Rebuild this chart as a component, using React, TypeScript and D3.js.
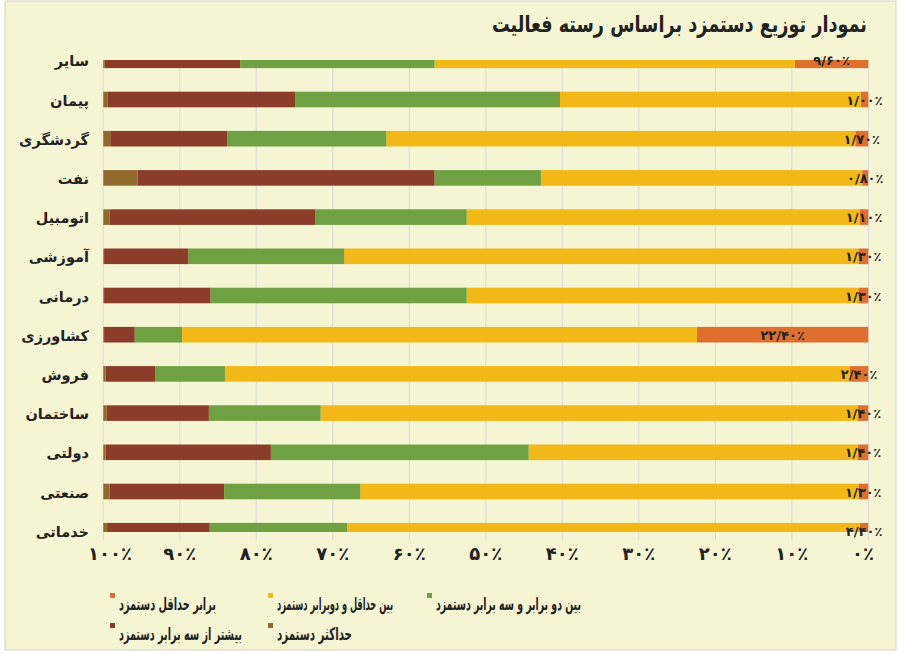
import React, { useLayoutEffect, useRef, useState } from "react";
import * as d3 from "d3";

const categories = ["سایر", "پیمان", "گردشگری", "نفت", "اتومبیل", "آموزشی", "درمانی", "کشاورزی", "فروش", "ساختمان", "دولتی", "صنعتی", "خدماتی"];
const minWage = [9.6, 1.0, 1.7, 0.8, 1.1, 1.3, 1.3, 22.4, 2.4, 1.4, 1.4, 1.3, 1.1];
const minToDouble = [47.1, 39.3, 61.3, 42.0, 51.4, 67.2, 51.2, 67.3, 81.7, 70.2, 43.0, 65.1, 67.0];
const doubleToTriple = [25.4, 34.6, 20.8, 13.9, 19.8, 20.4, 33.5, 6.2, 9.1, 14.6, 33.7, 17.8, 18.0];
const moreThanTriple = [17.7, 24.5, 15.3, 38.8, 26.9, 11.0, 13.9, 4.0, 6.5, 13.4, 21.6, 15.0, 13.4];
const maxWage = [0.2, 0.6, 0.9, 4.5, 0.8, 0.1, 0.1, 0.1, 0.3, 0.4, 0.3, 0.8, 0.5];
const minWageLabels = [9.6, 1.0, 1.7, 0.8, 1.1, 1.3, 1.3, 22.4, 2.4, 1.4, 1.4, 1.3, 4.4];
const ticks = [100, 90, 80, 70, 60, 50, 40, 30, 20, 10, 0];

const seriesKeys = ["minWage", "minToDouble", "doubleToTriple", "moreThanTriple", "maxWage"];
const seriesNames = ["برابر حداقل دستمزد", "بین حداقل و دوبرابر دستمزد", "بین دو برابر و سه برابر دستمزد", "بیشتر از سه برابر دستمزد", "حداکثر دستمزد"];
const colors = ["#DE6F2F", "#F2B817", "#6FA042", "#8B3D29", "#8F6A2C"];

const fa = (s: string) => s.replace(/[0-9]/g, (d) => "۰۱۲۳۴۵۶۷۸۹"[+d]).replace(/\./g, "/");
const FONT = "'DejaVu Sans', sans-serif";

function FitText(props: { x: number; y: number; width: number; anchor: "start" | "end"; fontSize: number; children: string }) {
  const ref = useRef<SVGTextElement>(null);
  const [s, setS] = useState(0.7);
  useLayoutEffect(() => {
    if (ref.current) {
      const w = ref.current.getComputedTextLength();
      if (w > 0) setS(props.width / w);
    }
  }, [props.width, props.children]);
  return (
    <text
      ref={ref}
      transform={`translate(${props.x},${props.y}) scale(${s},1)`}
      textAnchor={props.anchor}
      fontSize={props.fontSize}
      fontWeight="bold"
      fill="#222"
    >
      {props.children}
    </text>
  );
}

export default function App() {
  const rows = categories.map((c, i) => ({
    cat: c,
    minWage: minWage[i],
    minToDouble: minToDouble[i],
    doubleToTriple: doubleToTriple[i],
    moreThanTriple: moreThanTriple[i],
    maxWage: maxWage[i],
  }));
  const stacked = d3.stack<any>().keys(seriesKeys)(rows);
  const x = d3.scaleLinear().domain([100, 0]).range([103.3, 868.3]);
  const y = d3.scalePoint<string>().domain(categories).range([40.7, 550.3]).padding(0.5);
  const barH = 15.6;
  const plotTop = 60;
  const plotBottom = 532;

  const legendItems = [
    { i: 0, mx: 110, row: 0, w: 97 },
    { i: 1, mx: 268, row: 0, w: 116 },
    { i: 2, mx: 427, row: 0, w: 145 },
    { i: 3, mx: 110, row: 1, w: 123 },
    { i: 4, mx: 268, row: 1, w: 75 },
  ];

  return (
    <svg width={900} height={662} style={{ position: "absolute", left: 0, top: 0 }} fontFamily={FONT}>
      <defs>
        <clipPath id="plotClip">
          <rect x={95} y={plotTop} width={780} height={plotBottom - plotTop} />
        </clipPath>
      </defs>
      <rect x={0} y={0} width={900} height={662} fill="#ffffff" />
      <rect x={5} y={1} width={891} height={649} fill="#F6F5D3" stroke="#D4D4C4" strokeWidth={1} />
      <FitText x={867} y={32} width={375} anchor="end" fontSize={23}>
        نمودار توزیع دستمزد براساس رسته فعالیت
      </FitText>
      {ticks.map((t) => (
        <line key={t} x1={x(t)} x2={x(t)} y1={plotTop} y2={540} stroke="#DCDCDC" strokeWidth={1.2} />
      ))}
      <g clipPath="url(#plotClip)">
        {stacked.map((s, si) => (
          <g key={s.key} fill={colors[si]}>
            {s.map((d: any, j: number) => (
              <rect
                key={j}
                x={x(d[1])}
                width={x(d[0]) - x(d[1])}
                y={(y(d.data.cat) as number) - barH / 2}
                height={barH}
              />
            ))}
          </g>
        ))}
      </g>
      {stacked[0].map((d: any, j: number) => (
        <text
          key={j}
          x={(x(d[0]) + x(d[1])) / 2}
          y={(y(d.data.cat) as number) + 5}
          textAnchor="middle"
          fontSize={13}
          fontWeight="bold"
          fill="#222"
        >
          {fa(minWageLabels[j].toFixed(2)) + "٪"}
        </text>
      ))}
      {categories.map((c) => (
        <text key={c} x={89} y={(y(c) as number) + 6} textAnchor="end" fontSize={14.5} fontWeight="bold" fill="#222">
          {c}
        </text>
      ))}
      {ticks.map((t, i) => (
        <text
          key={t}
          x={i === 0 ? 88 : i === ticks.length - 1 ? 874 : x(t)}
          y={560}
          textAnchor={i === 0 ? "start" : i === ticks.length - 1 ? "end" : "middle"}
          fontSize={18}
          fontWeight="bold"
          fill="#222"
        >
          {fa(String(t)) + "٪"}
        </text>
      ))}
      {legendItems.map((l) => (
        <g key={l.i}>
          <rect x={l.mx} y={593 + l.row * 30} width={5} height={5} fill={colors[l.i]} />
          <FitText x={l.mx + 9} y={610 + l.row * 30} width={l.w} anchor="start" fontSize={17.5}>
            {seriesNames[l.i]}
          </FitText>
        </g>
      ))}
    </svg>
  );
}
